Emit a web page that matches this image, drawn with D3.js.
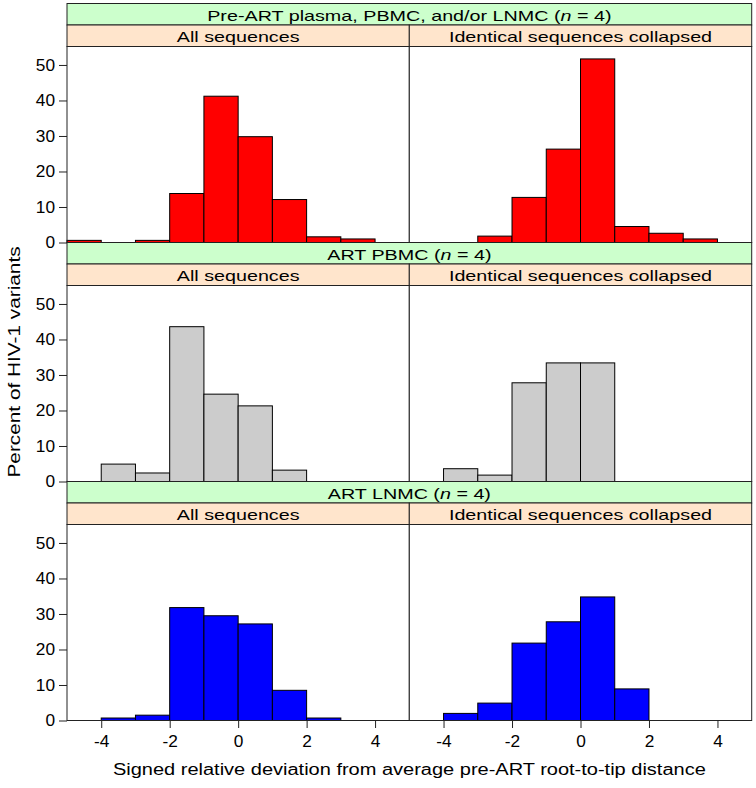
<!DOCTYPE html>
<html>
<head>
<meta charset="utf-8">
<script src="https://cdn.jsdelivr.net/npm/d3@7"></script>
<style>
  body { margin: 0; background: #fff; }
  text { font-family: "Liberation Sans", Arial, Helvetica, sans-serif; fill: #000; }
</style>
</head>
<body>
<svg id="chart" width="756" height="788"></svg>
<script>
// ---- data ----
const binEdges = [-5, -4, -3, -2, -1, 0, 1, 2, 3, 4, 5];
const xTicks = [-4, -2, 0, 2, 4];
const yTicks = [0, 10, 20, 30, 40, 50];
const rowTitles = ["Pre-ART plasma, PBMC, and/or LNMC", "ART PBMC", "ART LNMC"];
const rowN = [4, 4, 4];
const colTitles = ["All sequences", "Identical sequences collapsed"];
const rowColors = ["#ff0000", "#cccccc", "#0000ff"];
const preArtAll       = [0.6, 0, 0.6, 13.8, 41.2, 29.8, 12.1, 1.6, 1.0, 0];
const preArtCollapsed = [0, 0, 1.8, 12.7, 26.3, 51.7, 4.5, 2.6, 1.0, 0];
const pbmcAll         = [0, 4.9, 2.4, 43.6, 24.6, 21.3, 3.2, 0, 0, 0];
const pbmcCollapsed   = [0, 3.6, 1.8, 27.8, 33.4, 33.4, 0, 0, 0, 0];
const lnmcAll         = [0, 0.7, 1.5, 31.8, 29.5, 27.2, 8.5, 0.7, 0, 0];
const lnmcCollapsed   = [0, 2.0, 4.9, 21.8, 27.8, 34.8, 8.9, 0, 0, 0];
const panelValues = [[preArtAll, preArtCollapsed], [pbmcAll, pbmcCollapsed], [lnmcAll, lnmcCollapsed]];

// ---- layout ----
const L = 67, M = 409.3, R = 751.7;
const rowTop = [3.5, 242.5, 481.5];
const stripH = 21.5, plotH = 196;
const yMax = 55.2;
const stroke = "#222";
const stripSx = 1.37, tickSx = 1.08;

const svg = d3.select("#chart");
const colX = [[L, M], [M, R]];

const y = d3.scaleLinear().domain([0, yMax]).range([plotH, 0]);

rowTitles.forEach((title, r) => {
  const top = rowTop[r];
  const g = svg.append("g").attr("transform", `translate(0,${top})`);
  // outer (green) strip
  g.append("rect").attr("x", L).attr("y", 0).attr("width", R - L).attr("height", stripH)
    .attr("fill", "#ccffcc").attr("stroke", stroke).attr("stroke-width", 1);
  const t = g.append("text")
    .attr("transform", `translate(${(L + R) / 2},${stripH - 4.5}) scale(${stripSx},1)`)
    .attr("text-anchor", "middle").attr("font-size", 14.4);
  t.append("tspan").text(title + " (");
  t.append("tspan").attr("font-style", "italic").text("n");
  t.append("tspan").text(" = " + rowN[r] + ")");

  colTitles.forEach((ct, c) => {
    const [x0, x1] = colX[c];
    const x = d3.scaleLinear().domain([binEdges[0], binEdges[binEdges.length - 1]]).range([x0, x1]);
    // inner (orange) strip
    g.append("rect").attr("x", x0).attr("y", stripH).attr("width", x1 - x0).attr("height", stripH)
      .attr("fill", "#ffe5cc").attr("stroke", stroke).attr("stroke-width", 1);
    g.append("text")
      .attr("transform", `translate(${(x0 + x1) / 2},${2 * stripH - 4.5}) scale(${stripSx},1)`)
      .attr("text-anchor", "middle").attr("font-size", 14.4).text(ct);

    const pg = g.append("g").attr("transform", `translate(0,${2 * stripH})`);
    pg.append("rect").attr("x", x0).attr("y", 0).attr("width", x1 - x0).attr("height", plotH)
      .attr("fill", "#fff");
    const vals = panelValues[r][c];
    const bins = vals.map((v, i) => ({ x0: binEdges[i], x1: binEdges[i + 1], v }))
      .filter(d => d.v > 0);
    pg.selectAll("rect.bar").data(bins).enter().append("rect")
      .attr("class", "bar")
      .attr("x", d => x(d.x0)).attr("width", d => x(d.x1) - x(d.x0))
      .attr("y", d => y(d.v)).attr("height", d => y(0) - y(d.v))
      .attr("fill", rowColors[r]).attr("stroke", "#000").attr("stroke-width", 1);
    pg.append("rect").attr("x", x0).attr("y", 0).attr("width", x1 - x0).attr("height", plotH)
      .attr("fill", "none").attr("stroke", stroke).attr("stroke-width", 1);

    if (c === 0) {
      const ya = pg.append("g").attr("transform", `translate(${x0},0)`)
        .call(d3.axisLeft(y).tickValues(yTicks).tickSize(8).tickPadding(4).tickFormat(d3.format("d")));
      ya.select(".domain").remove();
      ya.selectAll(".tick line").attr("stroke", stroke);
      ya.selectAll(".tick text").attr("font-size", 16).attr("font-family", null)
        .attr("x", -12 / tickSx).attr("transform", `scale(${tickSx},1)`);
    }
    if (r === rowTitles.length - 1) {
      const xa = pg.append("g").attr("transform", `translate(0,${plotH})`)
        .call(d3.axisBottom(x).tickValues(xTicks).tickSize(7.5).tickPadding(7.5).tickFormat(d3.format("d")));
      xa.select(".domain").remove();
      xa.selectAll(".tick line").attr("stroke", stroke);
      xa.selectAll(".tick text").attr("font-size", 16).attr("font-family", null)
        .text(d => d < 0 ? "-" + Math.abs(d) : String(d))
        .attr("transform", `scale(${tickSx},1)`);
    }
  });
});

// axis titles
svg.append("text")
  .attr("transform", `translate(${(L + R) / 2},775) scale(1.25,1)`)
  .attr("text-anchor", "middle").attr("font-size", 16)
  .text("Signed relative deviation from average pre-ART root-to-tip distance");
svg.append("text")
  .attr("transform", `translate(20,${(rowTop[0] + rowTop[2] + 2 * stripH + plotH) / 2}) rotate(-90) scale(1.3,1)`)
  .attr("text-anchor", "middle").attr("font-size", 16)
  .text("Percent of HIV-1 variants");
</script>
</body>
</html>
